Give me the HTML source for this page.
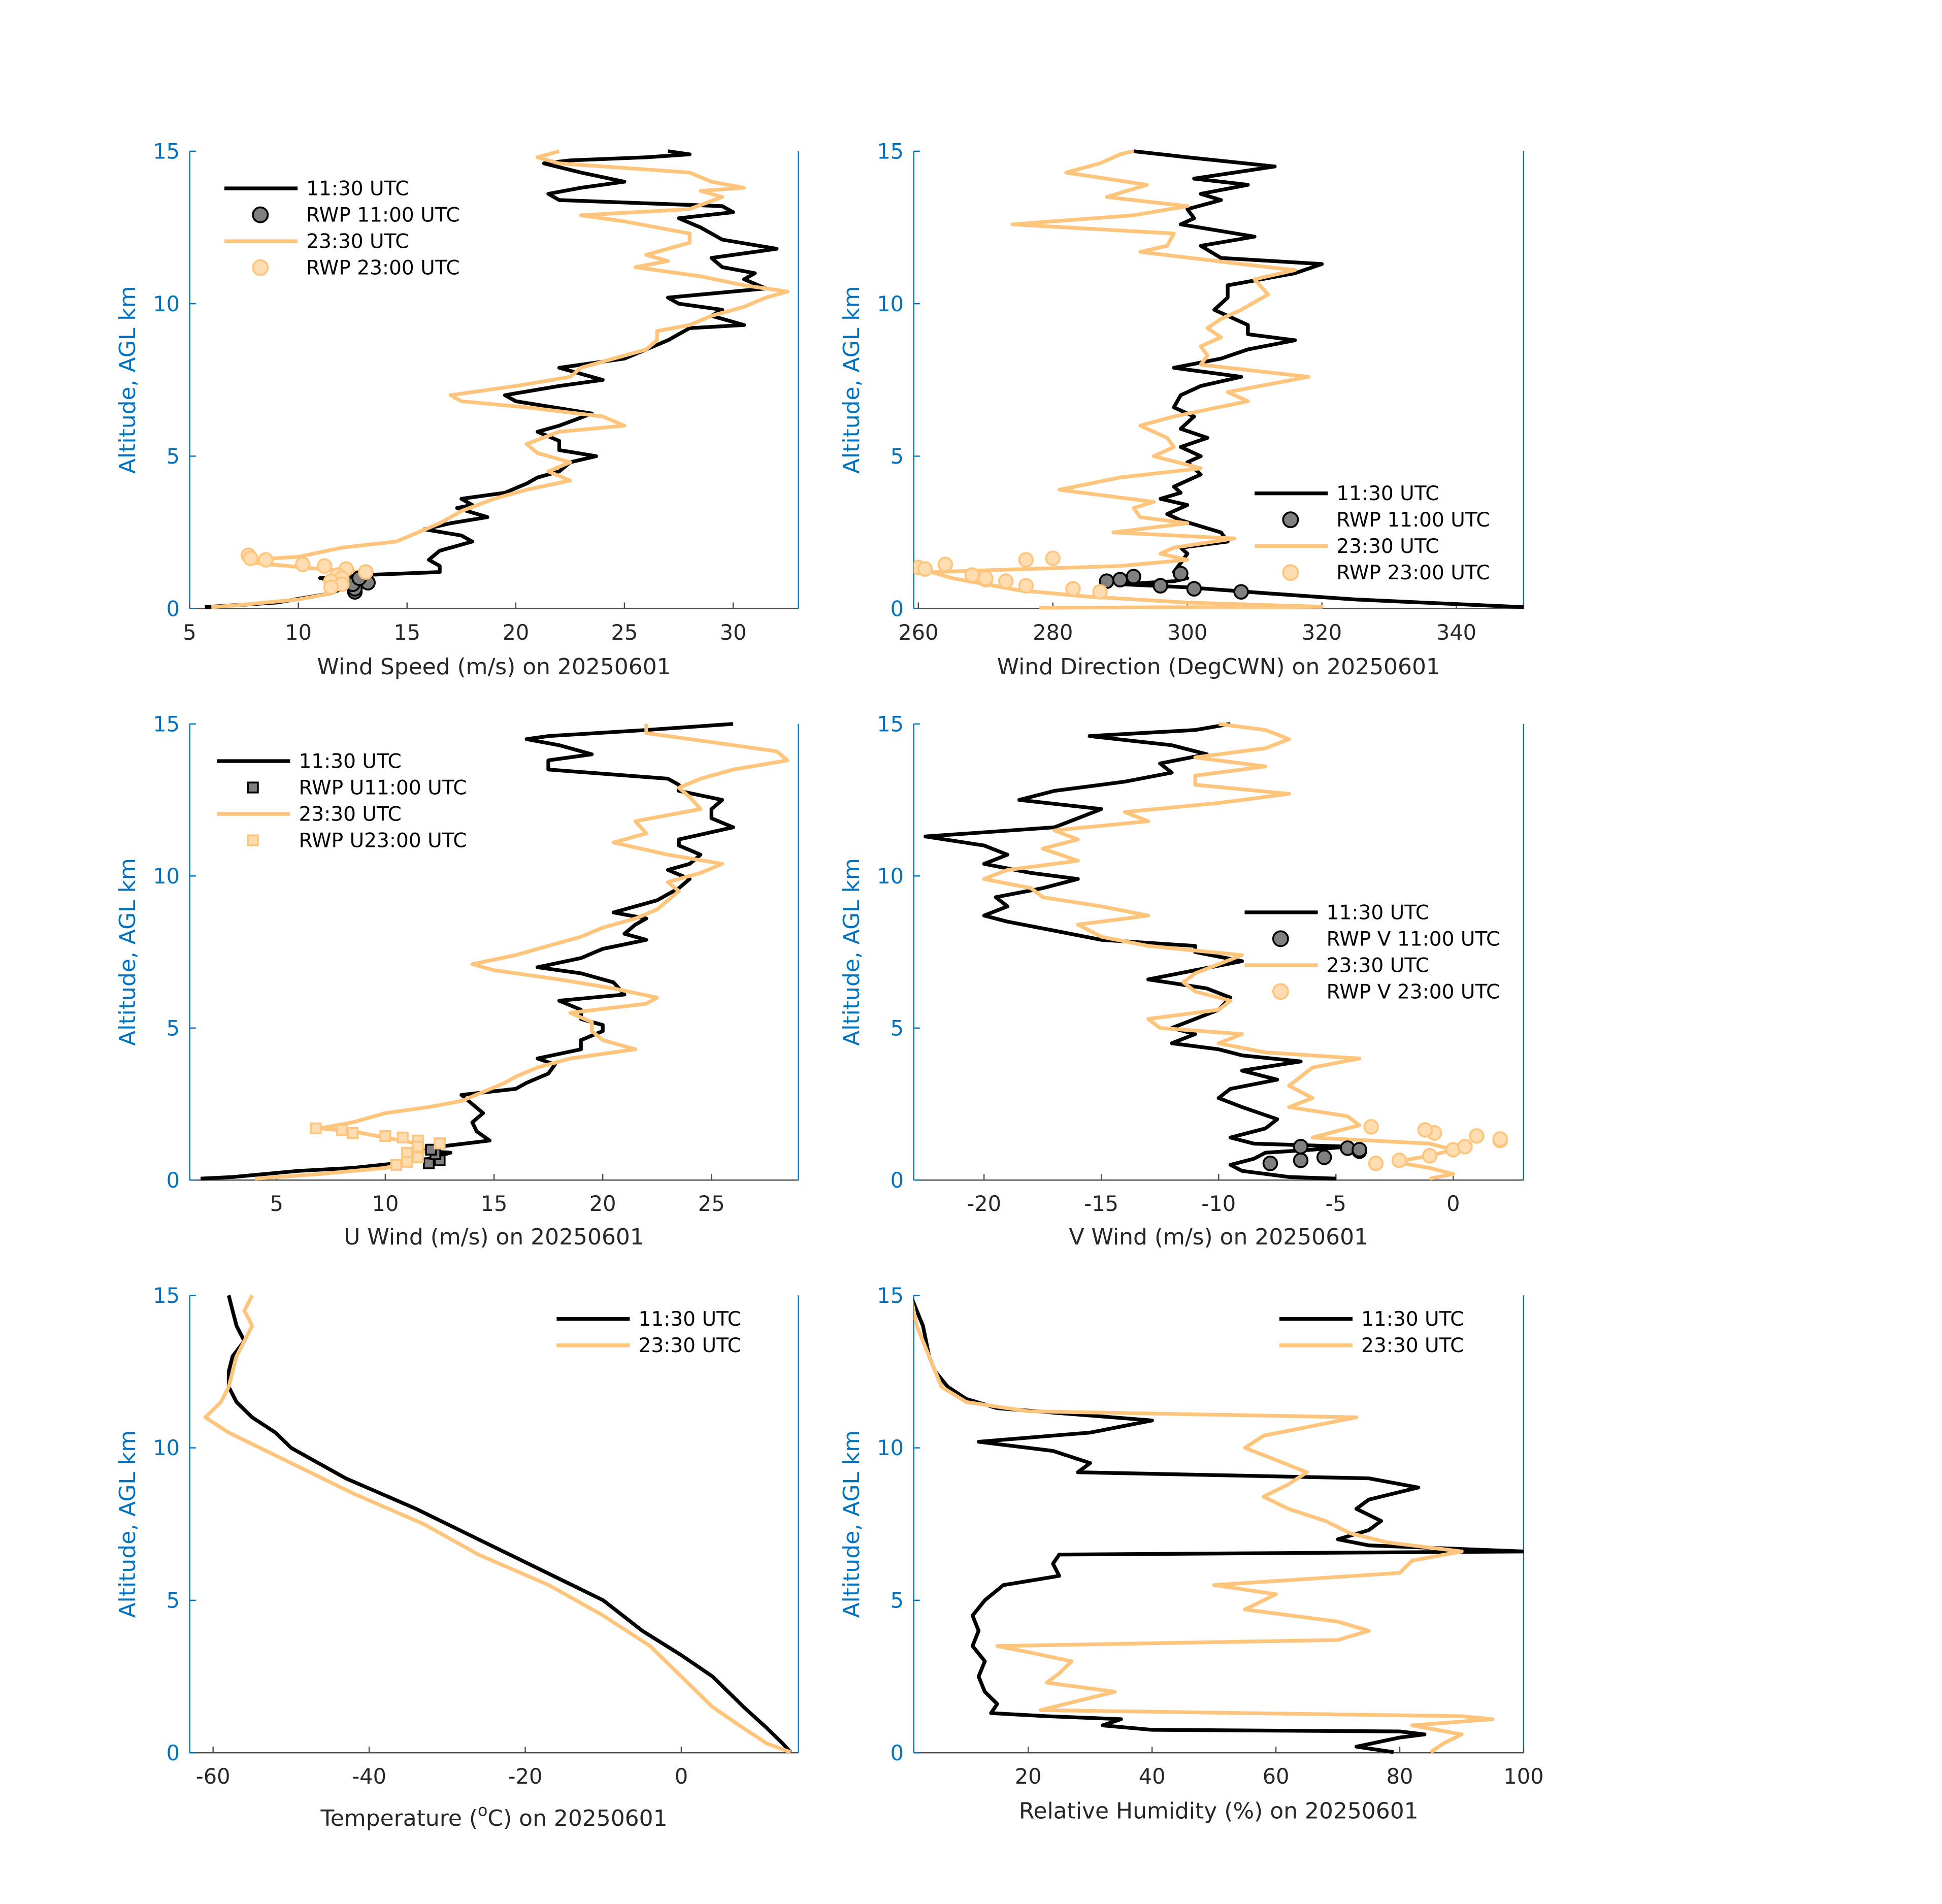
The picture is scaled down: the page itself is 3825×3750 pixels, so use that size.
<!DOCTYPE html>
<html><head><meta charset="utf-8"><style>
html,body{margin:0;padding:0;background:#fff;}
svg{display:block;}
text{font-family:"DejaVu Sans","Liberation Sans",sans-serif;}
</style></head><body>
<svg id="fig" xmlns="http://www.w3.org/2000/svg" width="3825" height="3750" viewBox="0 0 1566.5 1536" preserveAspectRatio="none"></svg>
<script>
// ---- data (altitude km, value) ----
const altWsB=[0.05,0.2,0.5,0.8,1.0,1.1,1.2,1.4,1.6,1.9,2.2,2.4,2.6,2.8,3.0,3.3,3.4,3.6,3.8,4.1,4.3,4.5,4.8,5.0,5.2,5.5,5.8,6.0,6.4,6.8,7.0,7.3,7.5,7.9,8.2,8.5,8.8,9.2,9.3,9.6,9.8,10.0,10.2,10.5,10.8,11.0,11.2,11.5,11.8,12.1,12.5,12.8,13.0,13.2,13.4,13.6,13.8,14.0,14.3,14.6,14.7,14.8,14.9,15];
const wsB=[5.7,9,11.5,12.5,11,13,16.5,16.5,16,16.5,18,17.5,15.8,17,18.7,17.3,18,17.5,19.5,20.5,21,22,22.5,23.7,22,22,21,22,23.5,20,19.5,22,24,22,25,26,27,28,30.5,29,29.5,27.5,27,31.5,30.5,31,29.5,29,32,29.5,28.5,27.5,30,29.5,22,21.5,23,25,23,21.3,22.5,26,28,27];
const altWsO=[0.05,0.1,0.3,0.5,0.8,1.0,1.2,1.3,1.5,1.6,1.7,2.0,2.2,2.5,2.8,3.2,3.6,3.9,4.2,4.5,4.8,5.1,5.4,5.8,6.0,6.3,6.6,6.8,7.0,7.3,7.6,7.9,8.2,8.5,8.8,9.1,9.3,9.6,9.9,10.2,10.4,10.6,10.9,11.2,11.4,11.6,12.0,12.3,12.7,12.9,13.1,13.5,13.7,13.8,14.0,14.3,14.6,14.8,15];
const wsO=[6,7,10,11.5,12,12.5,13,11,8,7.7,10,12,14.5,15.5,16.5,17.5,19,20.5,22.5,21.5,22.5,21,20.5,22,25,24,20.5,17.5,17,20,22.5,23,24.5,26,26.5,26.5,28,29,30.5,31.5,32.5,30.5,28.5,25.5,27,26,28,28,25,23,28,29.5,28.5,30.5,29,28,22,21,22];
const rwpAltB=[0.55,0.65,0.8,0.85,1.0,1.2];
const rwpWsB=[12.6,12.6,12.5,13.2,12.8,13.1];
const rwpAltO=[1.75,1.65,1.6,1.45,1.4,1.3,1.2,1.1,1.0,0.9,0.8,0.7];
const rwpWsO=[7.7,7.8,8.5,10.2,11.2,12.2,13.1,11.8,12,11.5,12,11.5];

const altDirB=[0.05,0.2,0.3,0.5,0.7,0.8,0.9,1.0,1.2,1.5,1.8,2.0,2.2,2.5,2.7,2.9,3.1,3.4,3.6,3.8,4.0,4.4,4.8,5.0,5.3,5.6,5.9,6.3,6.6,7.0,7.3,7.6,7.9,8.2,8.5,8.8,9.0,9.3,9.8,10.2,10.6,11.0,11.3,11.5,11.9,12.2,12.6,12.8,13.1,13.4,13.6,13.9,14.1,14.3,14.5,14.8,15];
const dirB=[350,335,325,312,300,290,298,300,298,299,300,299,306,305,302,299,297,300,296,299,298,302,300,302,299,303,299,301,298,299,302,308,298,305,309,316,309,309,304,306,306,316,320,305,302,310,299,301,300,305,302,309,301,307,313,300,292];
const altDirO=[0.03,0.06,0.2,0.4,0.6,0.8,1.0,1.2,1.4,1.6,1.8,2.0,2.3,2.5,2.8,3.0,3.3,3.5,3.9,4.3,4.6,5.0,5.3,5.6,6.0,6.3,6.8,7.1,7.6,8.0,8.3,8.6,8.9,9.2,9.5,9.8,10.3,10.8,11.1,11.3,11.7,11.9,12.3,12.6,12.9,13.2,13.5,13.9,14.3,14.6,14.9,15];
const dirO=[278,320,300,285,275,270,265,262,290,300,296,298,307,289,300,293,292,295,281,290,302,295,298,297,293,298,309,306,318,302,303,302,305,303,305,308,312,310,316,308,293,297,298,274,292,300,288,294,282,287,290,292];
const rwpDirAltB=[0.9,0.95,1.05,0.75,1.15,0.65,0.55];
const rwpDirB=[288,290,292,296,299,301,308];
const rwpDirAltO=[1.35,1.3,1.45,1.1,0.95,1.0,0.9,0.75,1.6,1.65,0.65,0.55];
const rwpDirO=[260,261,264,268,270,270,273,276,276,280,283,287];

const altUB=[0.05,0.1,0.3,0.4,0.55,0.7,0.9,1.0,1.1,1.3,1.6,1.9,2.2,2.5,2.8,3.0,3.2,3.5,3.8,4.0,4.3,4.6,4.9,5.1,5.3,5.6,5.9,6.1,6.5,6.8,7.0,7.3,7.6,7.9,8.1,8.4,8.6,8.8,9.2,9.6,9.9,10.2,10.4,10.7,11.0,11.2,11.6,11.9,12.2,12.5,12.8,13.0,13.2,13.5,13.8,14.0,14.3,14.5,14.6,14.8,15];
const uB=[1.5,3,6,8.5,10.5,12,13,11,12.5,14.8,14.2,14,14.5,14,13.5,16,16.5,17.5,17.8,17,19,19,20,20,19,19,18,21,20.5,19,17,19,20,22,21,21.5,22,20.5,22.5,23.5,24,23,24,24.5,23.5,23.5,26,25,25,25.5,23.5,23.5,23,17.5,17.5,19.5,18,16.5,17.5,22,26];
const altUO=[0.05,0.2,0.4,0.6,0.8,1.0,1.2,1.4,1.6,1.7,1.9,2.2,2.4,2.6,2.9,3.2,3.4,3.7,4.0,4.3,4.6,4.9,5.2,5.5,5.8,6.0,6.3,6.6,6.9,7.1,7.4,7.7,8.0,8.3,8.6,8.9,9.2,9.5,9.8,10.1,10.4,10.7,11.1,11.4,11.8,12.2,12.6,12.9,13.2,13.5,13.8,14.1,14.4,14.7,15];
const uO=[4,7,10,11,11.5,12,11.5,10,8.5,7,8.5,10,12,13.5,14.5,15.5,16,17,18.5,21.5,20,19.5,19.5,18.5,22,22.5,20.5,18,15,14,16,17.5,19,20,21.5,22.5,23,23.5,23,24.5,25.5,23,20.5,22,21.5,24.5,24,23.5,24.5,26,28.5,28,25,22,22];
const rwpUAltB=[0.55,0.65,0.85,1.0,1.2];
const rwpUB=[12,12.5,12.3,12.1,12.5];
const rwpUAltO=[1.7,1.65,1.55,1.45,1.4,1.3,1.2,1.1,0.9,0.75,0.6,0.5];
const rwpUO=[6.8,8,8.5,10,10.8,11.5,12.5,11.5,11,11.5,11,10.5];

const altVB=[0.05,0.1,0.3,0.5,0.7,0.9,1.0,1.1,1.2,1.4,1.7,2.0,2.4,2.7,3.0,3.3,3.6,3.9,4.1,4.3,4.5,4.8,5.0,5.3,5.6,6.0,6.3,6.6,6.9,7.2,7.5,7.7,7.9,8.2,8.5,8.7,9.0,9.3,9.6,9.9,10.1,10.4,10.7,11.0,11.3,11.6,11.9,12.2,12.5,12.8,13.1,13.4,13.7,14.0,14.3,14.6,14.8,15];
const vB=[-5,-7,-9,-9.5,-8.5,-8,-6,-4.5,-8.5,-9.5,-8,-7.5,-9,-10,-9.5,-7.5,-9,-6.5,-9,-10,-12,-11,-12,-11,-10,-9.5,-10.5,-13,-11,-9,-11,-11,-15,-17,-19,-20,-19,-19.5,-17.5,-16,-18,-20,-19,-20,-22.5,-17,-16,-15,-18.5,-17,-14,-12,-12.5,-10.5,-12,-15.5,-11,-9.5];
const altVO=[0.05,0.2,0.4,0.6,0.8,1.0,1.2,1.4,1.6,1.8,2.1,2.4,2.7,3.1,3.4,3.7,4.0,4.2,4.5,4.8,5.0,5.3,5.6,5.9,6.2,6.5,6.8,7.1,7.4,7.7,8.0,8.4,8.7,9.0,9.3,9.6,9.9,10.2,10.5,10.9,11.2,11.5,11.8,12.1,12.4,12.7,13.0,13.3,13.6,13.9,14.2,14.5,14.8,15];
const vO=[-1,0,-1,-2.5,-1,0,-1,-6,-5,-4,-4.5,-7,-6,-7,-6.5,-6,-4,-8,-10,-9,-12.5,-13,-10,-9.5,-11,-11.5,-11,-10,-9,-13,-15,-16,-13,-15,-17.5,-18,-20,-19,-16,-17.5,-16,-17,-13,-14,-10,-7,-11,-11,-8,-11,-8,-7,-8,-10];
const rwpVAltB=[0.55,0.65,0.75,1.1,1.05,0.95,1.0];
const rwpVB=[-7.8,-6.5,-5.5,-6.5,-4.5,-4,-4];
const rwpVAltO=[0.55,0.65,0.8,1.0,1.1,1.3,1.35,1.45,1.55,1.65,1.75];
const rwpVO=[-3.3,-2.3,-1,0,0.5,2,2,1,-0.8,-1.2,-3.5];

const altTB=[0.02,0.3,0.8,1.5,2.5,3.2,4.0,5.0,6.0,7.0,8.0,9.0,10.0,10.5,11.0,11.5,12.0,12.5,13.0,13.5,14.0,14.5,15];
const tB=[14,13,11,8,4,0,-5,-10,-18,-26,-34,-43,-50,-52,-55,-57,-58,-58,-57.5,-56,-57,-57.5,-58];
const altTO=[0.02,0.3,0.8,1.5,2.5,3.5,4.5,5.5,6.5,7.5,8.5,9.5,10.5,11.0,11.5,12.0,13.0,14.0,14.5,15];
const tO=[14,11,8,4,0,-4,-10,-17,-26,-33,-42,-50,-58,-61,-59,-58,-57,-55,-56,-55];

const altRhB=[0.02,0.2,0.5,0.6,0.7,0.75,0.9,1.1,1.2,1.3,1.6,2.0,2.5,3.0,3.5,4.0,4.5,5.0,5.5,5.8,6.2,6.5,6.6,6.8,7.0,7.3,7.6,8.0,8.3,8.7,9.0,9.2,9.5,9.9,10.2,10.5,10.9,11.3,11.6,12.0,12.5,13.0,14.0,15];
const rhB=[79,73,80,84,80,40,32,35,23,14,15,13,12,13,11,12,11,13,16,25,24,25,100,75,70,75,77,73,75,83,75,28,30,24,12,30,40,15,10,7,5,4,3,1];
const altRhO=[0.02,0.3,0.6,0.9,1.1,1.2,1.4,1.7,2.0,2.3,2.6,3.0,3.3,3.5,3.7,4.0,4.3,4.7,5.2,5.5,5.9,6.3,6.6,6.9,7.2,7.6,8.0,8.4,8.8,9.2,9.6,10.0,10.4,10.8,11.0,11.2,11.5,12.0,13,14,15];
const rhO=[85,87,90,82,95,90,22,28,34,23,25,27,20,15,70,75,70,55,60,50,80,82,90,78,72,68,62,58,62,65,60,55,58,68,73,20,10,6,4,2,1];

// ---- drawing ----
const NS="http://www.w3.org/2000/svg";
const svg=document.getElementById('fig');
const BLUE="#0072BD", ORANGE="#FFC57D", OFILL="#FFDDB0";
function el(tag,attrs,parent){const e=document.createElementNS(NS,tag);for(const k in attrs)e.setAttribute(k,attrs[k]);(parent||svg).appendChild(e);return e;}
let clipId=0;
function panel(cfg){
  const g=el('g',{});
  
  
  const L=cfg.x0,R=cfg.x1,T=cfg.y0,B=cfg.y1;
  const sx=v=>L+(v-cfg.xmin)/(cfg.xmax-cfg.xmin)*(R-L);
  const sy=v=>B-(v/15)*(B-T);
  const cid='c'+(clipId++);
  const cp=el('clipPath',{id:cid},g);el('rect',{x:L,y:T-2,width:R-L,height:B-T+4},cp);
  const ya=el('line',{x1:L,y1:T,x2:L,y2:B,stroke:BLUE,'stroke-width':1},g);
  
  el('line',{x1:R,y1:T,x2:R,y2:B,stroke:BLUE,'stroke-width':1},g);
  const xa=el('line',{x1:L,y1:B,x2:R,y2:B,stroke:'#4d4d4d','stroke-width':1},g);
  
  [0,5,10,15].forEach(v=>{
    el('line',{x1:L,y1:sy(v),x2:L+5,y2:sy(v),stroke:BLUE,'stroke-width':1},g);
    const t=el('text',{x:L-8,y:sy(v)+6,'text-anchor':'end','font-size':17,fill:BLUE},g);t.textContent=v;
    
  });
  cfg.xticks.forEach(v=>{
    el('line',{x1:sx(v),y1:B,x2:sx(v),y2:B-5,stroke:'#4d4d4d','stroke-width':1},g);
    const t=el('text',{x:sx(v),y:B+25,'text-anchor':'middle','font-size':17,fill:'#262626'},g);t.textContent=v;
    
  });
  const yl=el('text',{x:0,y:0,transform:`translate(${L-44},${(T+B)/2}) rotate(-90)`,'text-anchor':'middle','font-size':18,fill:BLUE},g);
  yl.textContent='Altitude, AGL km';
  const xl=el('text',{x:(L+R)/2,y:B+cfg.xlabDy,'text-anchor':'middle','font-size':18,fill:'#262626'},g);
  xl.innerHTML=cfg.xlabel;
  const pg=el('g',{'clip-path':`url(#${cid})`},g);
  cfg.series.forEach(s=>{
    if(s.type==='line'){
      const d=s.alt.map((a,i)=>(i?'L':'M')+sx(s.val[i]).toFixed(1)+','+sy(a).toFixed(1)).join('');
      const p=el('path',{d,fill:'none',stroke:s.color,'stroke-width':3,'stroke-linejoin':'round'},pg);
      
    }else{
      s.alt.forEach((a,i)=>{
        let m;
        if(s.shape==='sq') m=el('rect',{x:sx(s.val[i])-4,y:sy(a)-4,width:8,height:8,fill:s.fill,stroke:s.color,'stroke-width':1.5},pg);
        else m=el('circle',{cx:sx(s.val[i]),cy:sy(a),r:5.5,fill:s.fill,stroke:s.color,'stroke-width':1.5},pg);
        
      });
    }
  });
  const lg=el('g',{},g);
  cfg.legend.items.forEach((it,i)=>{
    const y=cfg.legend.y+i*21.3, x=cfg.legend.x;
    if(it.kind==='line') el('line',{x1:x,y1:y,x2:x+59,y2:y,stroke:it.color,'stroke-width':3},lg);
    else if(it.kind==='sq') el('rect',{x:x+25,y:y-4,width:8,height:8,fill:it.fill,stroke:it.color,'stroke-width':1.5},lg);
    else el('circle',{cx:x+29,cy:y,r:6,fill:it.fill,stroke:it.color,'stroke-width':1.5},lg);
    const t=el('text',{x:x+66,y:y+5.5,'font-size':16,fill:'#000'},lg);t.textContent=it.label;
    
  });
}
const ln=(alt,val,color,dn)=>({type:'line',alt,val,color,dn});
const mk=(alt,val,color,fill,dn,shape)=>({type:'mk',alt,val,color,fill,dn,shape});
const legRWP=(b,o,kind)=>[{kind:'line',color:'#000',label:'11:30 UTC'},{kind:kind,color:'#000',fill:'#808080',label:b},{kind:'line',color:ORANGE,label:'23:30 UTC'},{kind:kind,color:ORANGE,fill:OFILL,label:o}];

panel({name:'wind-speed-panel',x0:153,x1:644,y0:122,y1:491,xmin:5,xmax:33,xticks:[5,10,15,20,25,30],xlabDy:53,xlabel:'Wind Speed (m/s) on 20250601',
 series:[ln(altWsB,wsB,'#000','line-1130'),ln(altWsO,wsO,ORANGE,'line-2330'),mk(rwpAltB,rwpWsB,'#000','#808080','rwp-1100-marker'),mk(rwpAltO,rwpWsO,ORANGE,OFILL,'rwp-2300-marker')],
 legend:{x:181,y:152,items:legRWP('RWP 11:00 UTC','RWP 23:00 UTC','c')}});
panel({name:'wind-direction-panel',x0:737,x1:1229,y0:122,y1:491,xmin:259.3,xmax:350,xticks:[260,280,300,320,340],xlabDy:53,xlabel:'Wind Direction (DegCWN) on 20250601',
 series:[ln(altDirB,dirB,'#000','line-1130'),ln(altDirO,dirO,ORANGE,'line-2330'),mk(rwpDirAltB,rwpDirB,'#000','#808080','rwp-1100-marker'),mk(rwpDirAltO,rwpDirO,ORANGE,OFILL,'rwp-2300-marker')],
 legend:{x:1012,y:398,items:legRWP('RWP 11:00 UTC','RWP 23:00 UTC','c')}});
panel({name:'u-wind-panel',x0:153,x1:644,y0:584,y1:952,xmin:1,xmax:29,xticks:[5,10,15,20,25],xlabDy:52,xlabel:'U Wind (m/s) on 20250601',
 series:[ln(altUB,uB,'#000','line-1130'),ln(altUO,uO,ORANGE,'line-2330'),mk(rwpUAltB,rwpUB,'#000','#808080','rwp-u1100-marker','sq'),mk(rwpUAltO,rwpUO,ORANGE,OFILL,'rwp-u2300-marker','sq')],
 legend:{x:175,y:614,items:legRWP('RWP U11:00 UTC','RWP U23:00 UTC','sq')}});
panel({name:'v-wind-panel',x0:737,x1:1229,y0:584,y1:952,xmin:-23,xmax:3,xticks:[-20,-15,-10,-5,0],xlabDy:52,xlabel:'V Wind (m/s) on 20250601',
 series:[ln(altVB,vB,'#000','line-1130'),ln(altVO,vO,ORANGE,'line-2330'),mk(rwpVAltB,rwpVB,'#000','#808080','rwp-v1100-marker'),mk(rwpVAltO,rwpVO,ORANGE,OFILL,'rwp-v2300-marker')],
 legend:{x:1004,y:736,items:legRWP('RWP V 11:00 UTC','RWP V 23:00 UTC','c')}});
panel({name:'temperature-panel',x0:153,x1:644,y0:1045,y1:1414,xmin:-63,xmax:15,xticks:[-60,-40,-20,0],xlabDy:59,xlabel:'Temperature (<tspan font-size="13" dy="-8">o</tspan><tspan dy="8">C) on 20250601</tspan>',
 series:[ln(altTB,tB,'#000','line-1130'),ln(altTO,tO,ORANGE,'line-2330')],
 legend:{x:449,y:1064,items:[{kind:'line',color:'#000',label:'11:30 UTC'},{kind:'line',color:ORANGE,label:'23:30 UTC'}]}});
panel({name:'relative-humidity-panel',x0:737,x1:1229,y0:1045,y1:1414,xmin:1.5,xmax:100,xticks:[20,40,60,80,100],xlabDy:53,xlabel:'Relative Humidity (%) on 20250601',
 series:[ln(altRhB,rhB,'#000','line-1130'),ln(altRhO,rhO,ORANGE,'line-2330')],
 legend:{x:1032,y:1064,items:[{kind:'line',color:'#000',label:'11:30 UTC'},{kind:'line',color:ORANGE,label:'23:30 UTC'}]}});
</script>
</body></html>
